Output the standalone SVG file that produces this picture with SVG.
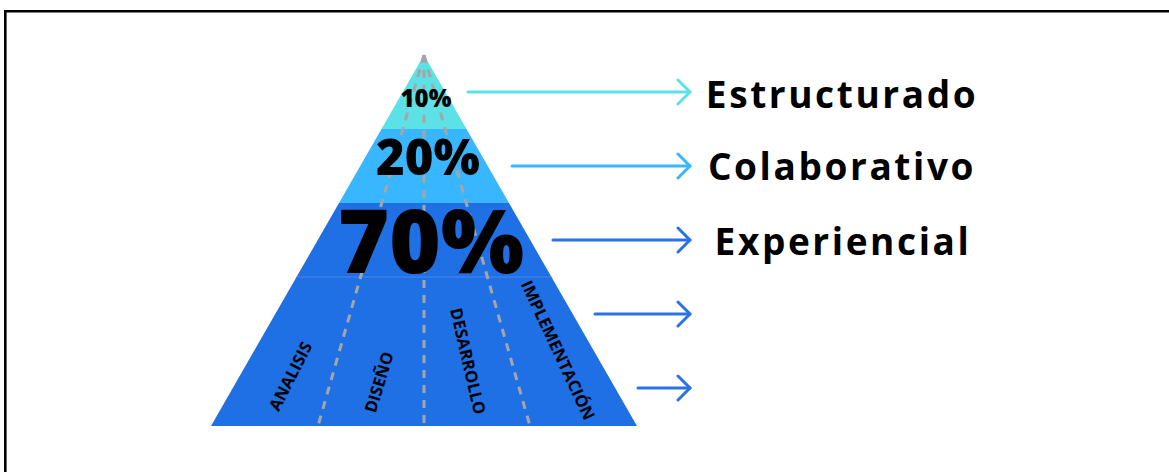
<svg xmlns="http://www.w3.org/2000/svg" width="1169" height="472" viewBox="0 0 1169 472">
  <style>
    .pct { font-family: "Open Sans", "Liberation Sans", sans-serif; font-weight: 800; fill: #000; text-anchor: middle; }
    .phase { font-family: "Open Sans", "Liberation Sans", sans-serif; font-weight: 700; font-size: 16.5px; fill: #000; text-anchor: middle; dominant-baseline: central; }
    .label { font-family: "Open Sans", "Liberation Sans", sans-serif; font-weight: 700; font-size: 37px; letter-spacing: 2.6px; fill: #000; text-anchor: middle; }
    .guide { stroke: #A6A6A6; stroke-width: 3; stroke-dasharray: 8 7; fill: none; }
    .arrow { fill: none; stroke-width: 3; stroke-linecap: round; stroke-linejoin: round; }
  </style>
  <defs>
    <marker id="head-teal" viewBox="0 0 16 28" refX="14" refY="14" markerWidth="16" markerHeight="28" markerUnits="userSpaceOnUse" orient="auto">
      <path d="M2,2 L14,14 L2,26" fill="none" stroke="#5CE1E6" stroke-width="3" stroke-linecap="round" stroke-linejoin="round"/>
    </marker>
    <marker id="head-sky" viewBox="0 0 16 28" refX="14" refY="14" markerWidth="16" markerHeight="28" markerUnits="userSpaceOnUse" orient="auto">
      <path d="M2,2 L14,14 L2,26" fill="none" stroke="#38B6FF" stroke-width="3" stroke-linecap="round" stroke-linejoin="round"/>
    </marker>
    <marker id="head-blue" viewBox="0 0 16 28" refX="14" refY="14" markerWidth="16" markerHeight="28" markerUnits="userSpaceOnUse" orient="auto">
      <path d="M2,2 L14,14 L2,26" fill="none" stroke="#2A72E6" stroke-width="3" stroke-linecap="round" stroke-linejoin="round"/>
    </marker>
  </defs>

  <rect width="1169" height="472" fill="#FFFFFF"/>
  <!-- frame -->
  <path d="M5.3,472 V11.3 H1169" fill="none" stroke="#000" stroke-width="2.6"/>

  <!-- pyramid bands -->
  <g id="band-structured">
    <polygon points="424,55 466.5,129 381.5,129" fill="#5CE1E6"/>
  </g>
  <g id="band-collaborative">
    <polygon points="381.5,129 466.5,129 509,203 339,203" fill="#38B6FF"/>
  </g>
  <g id="band-experiential">
    <polygon points="339,203 509,203 637,426 211,426" fill="#1F6FE5"/>
    <line x1="296.5" y1="277" x2="551.5" y2="277" stroke="#4A88EC" stroke-width="1"/>
  </g>

  <!-- phase guides -->
  <g id="guides">
    <line class="guide" x1="424" y1="55" x2="318" y2="426"/>
    <line class="guide" x1="424" y1="55" x2="424" y2="426"/>
    <line class="guide" x1="424" y1="55" x2="530" y2="426"/>
    <circle cx="424" cy="60" r="3" fill="#A6A6A6"/>
  </g>

  <!-- percentages -->
  <g id="pct-10"><text class="pct" x="426" y="107" font-size="24">10%</text></g>
  <g id="pct-20"><text class="pct" x="428" y="175" font-size="49">20%</text></g>
  <g id="pct-70"><text class="pct" x="431" y="273" font-size="88">70%</text></g>

  <!-- phases -->
  <g id="phase-analisis"><text class="phase" transform="translate(290,376) rotate(-63)">ANALISIS</text></g>
  <g id="phase-diseno"><text class="phase" transform="translate(378.5,382) rotate(-73)">DISEÑO</text></g>
  <g id="phase-desarrollo"><text class="phase" transform="translate(468.5,361) rotate(77)">DESARROLLO</text></g>
  <g id="phase-implementacion"><text class="phase" transform="translate(558.5,350) rotate(65)">IMPLEMENTACIÓN</text></g>

  <!-- connectors -->
  <g id="connectors">
    <line class="arrow" x1="468" y1="92" x2="690" y2="92" stroke="#5CE1E6" marker-end="url(#head-teal)"/>
    <line class="arrow" x1="512" y1="166" x2="690" y2="166" stroke="#38B6FF" marker-end="url(#head-sky)"/>
    <line class="arrow" x1="553" y1="240" x2="690" y2="240" stroke="#2A72E6" marker-end="url(#head-blue)"/>
    <line class="arrow" x1="595" y1="314" x2="690" y2="314" stroke="#2A72E6" marker-end="url(#head-blue)"/>
    <line class="arrow" x1="638" y1="388" x2="690" y2="388" stroke="#2A72E6" marker-end="url(#head-blue)"/>
  </g>

  <!-- learning types -->
  <g id="label-estructurado"><text class="label" x="842" y="108">Estructurado</text></g>
  <g id="label-colaborativo"><text class="label" x="842" y="180">Colaborativo</text></g>
  <g id="label-experiencial"><text class="label" x="843" y="255">Experiencial</text></g>
</svg>
